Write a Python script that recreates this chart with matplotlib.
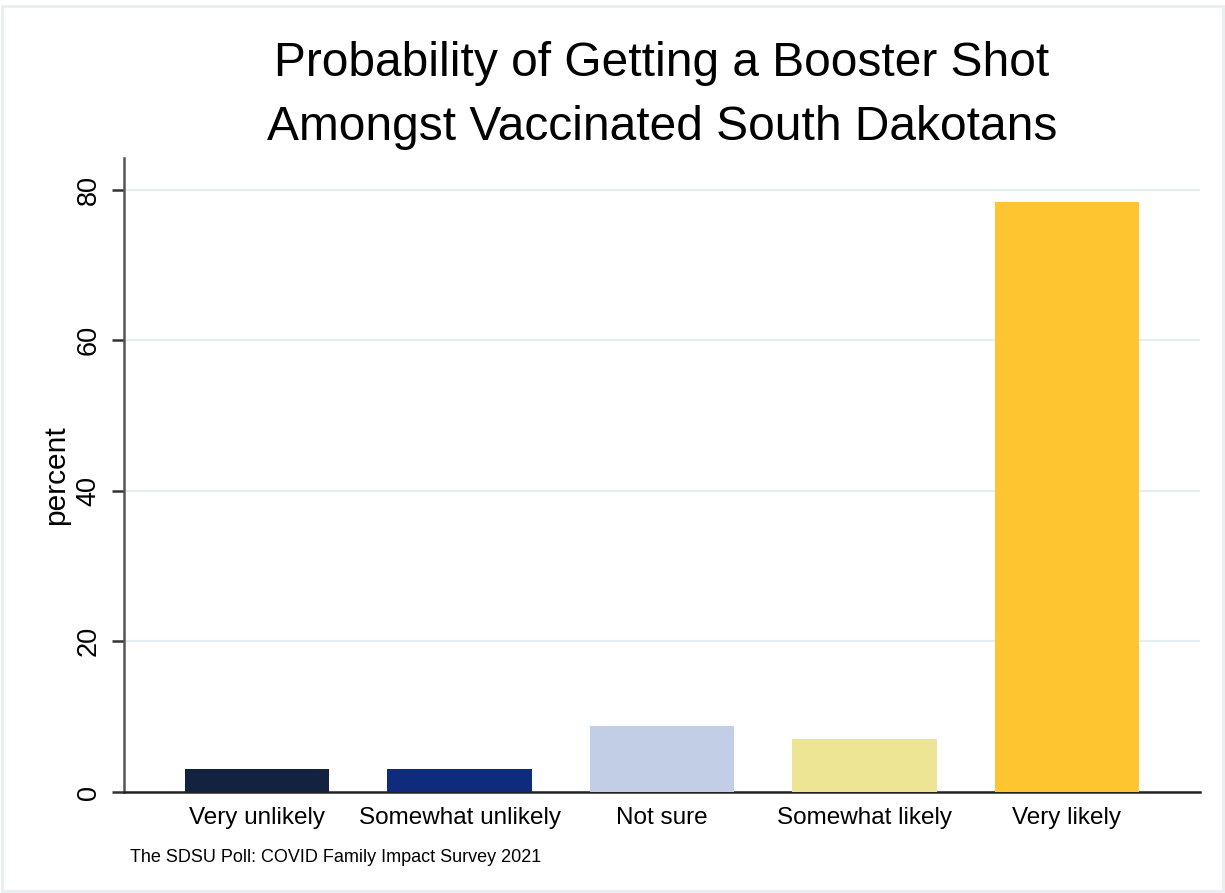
import matplotlib
matplotlib.use("Agg")
import matplotlib.pyplot as plt
from matplotlib.patches import Rectangle

categories = ["Very unlikely", "Somewhat unlikely", "Not sure", "Somewhat likely", "Very likely"]
percent = [3.1, 3.1, 8.7, 7.0, 78.3]
bar_colors = ["#13233f", "#0e2b7c", "#c2cde6", "#ede593", "#fdc52f"]
y_ticks = [0, 20, 40, 60, 80]

plt.rcParams["font.family"] = ["Liberation Sans", "DejaVu Sans"]

fig = plt.figure(figsize=(12.25, 8.93), dpi=100)
ax = fig.add_axes([124 / 1225, 101 / 893, 1076 / 1225, 634 / 893])

x = list(range(len(categories)))
ax.bar(x, percent, width=0.715, color=bar_colors, zorder=3)

ax.set_xlim(-0.657, len(categories) - 1 + 0.657)
ax.set_ylim(0, 84.2)
ax.set_yticks(y_ticks)
ax.set_yticklabels([str(v) for v in y_ticks], rotation=90, va="center", fontsize=19.5)
ax.set_xticks(x)
ax.set_xticklabels(categories, fontsize=17.5)
ax.tick_params(axis="x", length=0, pad=11)
ax.tick_params(axis="y", length=9, width=1.8, color="#333333", pad=7)

ax.grid(axis="y", color="#e6edf0", linewidth=1.6, zorder=0)
ax.set_axisbelow(True)

for side in ("top", "right"):
    ax.spines[side].set_visible(False)
ax.spines["left"].set_color("#555555")
ax.spines["left"].set_linewidth(1.8)
ax.spines["bottom"].set_color("#222222")
ax.spines["bottom"].set_linewidth(1.8)

ax.set_ylabel("percent", fontsize=21.5)
ax.yaxis.set_label_coords(-54 / 1076, 0.5)

fig.text(662 / 1225, 1 - 64 / 893, "Probability of Getting a Booster Shot",
         ha="center", va="center", fontsize=34.5)
fig.text(662 / 1225, 1 - 127 / 893, "Amongst Vaccinated South Dakotans",
         ha="center", va="center", fontsize=34.5)
fig.text(130 / 1225, 1 - 857 / 893, "The SDSU Poll: COVID Family Impact Survey 2021",
         ha="left", va="center", fontsize=13)

fig.patches.append(Rectangle((2 / 1225, 2 / 893), 1221 / 1225, 885 / 893,
                             transform=fig.transFigure, fill=False,
                             edgecolor="#e8eef0", linewidth=2))

fig.savefig("out.png", dpi=100)
